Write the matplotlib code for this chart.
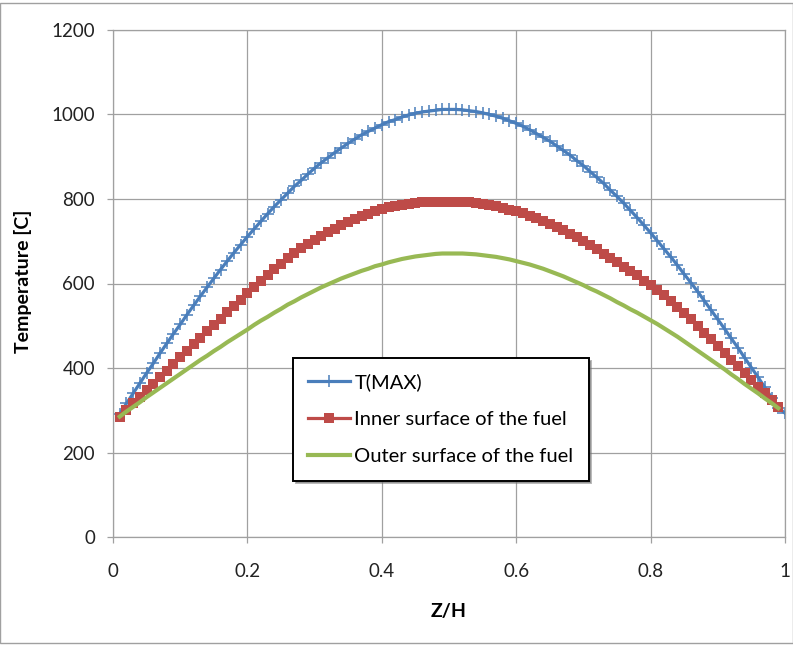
import numpy as np
import matplotlib; matplotlib.use("Agg")
import matplotlib.pyplot as plt
from matplotlib.patches import Rectangle

plt.rcParams["font.family"] = ["Lato", "DejaVu Sans"]

Z = np.round(np.arange(1, 101) * 0.01, 2)

T_MAX = [291, 316, 340, 364, 388, 411, 435, 458, 481, 503,
         526, 548, 570, 591, 612, 633, 653, 673, 692, 711,
         729, 747, 765, 782, 798, 814, 830, 844, 859, 873,
         886, 898, 910, 921, 932, 942, 952, 960, 968, 976,
         983, 988, 994, 999, 1003, 1006, 1008, 1010, 1012, 1012,
         1012, 1011, 1009, 1007, 1004, 1000, 996, 991, 985, 979,
         972, 964, 955, 946, 937, 926, 915, 904, 891, 879,
         865, 851, 837, 821, 806, 790, 773, 756, 738, 720,
         701, 682, 663, 643, 622, 602, 581, 559, 537, 515,
         493, 470, 448, 424, 401, 378, 354, 330, 306, 293]

INNER = [285, 301, 316, 332, 347, 363, 378, 394, 409, 425,
         440, 456, 471, 487, 502, 517, 532, 547, 562, 577,
         592, 607, 621, 634, 647, 660, 672, 683, 693, 703,
         713, 722, 730, 738, 746, 753, 759, 765, 771, 776,
         780, 783, 786, 789, 791, 792, 793, 794, 794, 793,
         793, 793, 792, 790, 788, 786, 783, 779, 775, 771,
         766, 760, 754, 748, 741, 733, 726, 718, 709, 700,
         691, 681, 671, 661, 651, 640, 629, 619, 607, 596,
         584, 572, 558, 545, 530, 515, 500, 484, 468, 452,
         436, 420, 404, 388, 372, 356, 340, 324, 308]

OUTER = [285, 297, 308, 319, 331, 342, 353, 364, 375, 386,
         397, 408, 419, 429, 440, 450, 461, 471, 481, 491,
         502, 512, 521, 531, 540, 550, 558, 567, 575, 583,
         591, 598, 605, 612, 618, 624, 630, 635, 641, 645,
         650, 654, 658, 661, 664, 666, 668, 670, 671, 671,
         671, 671, 670, 669, 667, 665, 663, 660, 657, 653,
         649, 645, 640, 635, 629, 623, 617, 610, 603, 596,
         588, 581, 573, 565, 556, 548, 539, 531, 522, 513,
         504, 494, 484, 474, 463, 452, 441, 430, 419, 408,
         397, 385, 374, 362, 351, 340, 328, 317, 305]

LABELS = ["T(MAX)", "Inner surface of the fuel", "Outer surface of the fuel"]
CORES = {"tmax": "#4A7EBB", "inner": "#BE4B48", "outer": "#98B954"}

W, H = 793, 650
fig = plt.figure(figsize=(W/100, H/100), dpi=100)
ax = fig.add_axes([113/W, 1-537/H, 672/W, 507/H])

ax.plot(Z[:len(T_MAX)], T_MAX, color=CORES["tmax"], lw=2.3, marker="+", ms=9, mew=1.1, label=LABELS[0])
ax.plot(Z[:len(INNER)], INNER, color=CORES["inner"], lw=2.3, marker="s", ms=6.8, mew=0, label=LABELS[1])
ax.plot(Z[:len(OUTER)], OUTER, color=CORES["outer"], lw=3, label=LABELS[2])

ax.set_xlim(0, 1); ax.set_ylim(0, 1200)
ax.set_xticks(np.arange(0, 1.01, 0.2)); ax.set_yticks(np.arange(0, 1201, 200))
ax.set_xticklabels(["0", "0.2", "0.4", "0.6", "0.8", "1"])
ax.grid(True, color="#A0A0A0", lw=0.9)
ax.set_axisbelow(True)
for s in ax.spines.values(): s.set_color("#A0A0A0"); s.set_linewidth(0.9)
ax.tick_params(axis="both", direction="out", length=4, width=0.9, color="#A0A0A0", labelsize=13.5, labelcolor="#222222")
ax.tick_params(axis="x", pad=15); ax.tick_params(axis="y", pad=9)

fig.text(449/W, 1-612/H, "Z/H", ha="center", va="center", fontsize=14, fontweight="bold")
fig.text(23/W, 1-281/H, "Temperature [C]", ha="center", va="center", rotation=90, fontsize=14, fontweight="bold")

leg = ax.legend(loc="upper left", bbox_to_anchor=(293/W, 1-358/H), bbox_transform=fig.transFigure,
                fancybox=False, shadow={"color": "0.45"}, edgecolor="black", framealpha=1,
                fontsize=14.5, numpoints=1, handlelength=2.1, handletextpad=0.2,
                labelspacing=1.0, borderpad=0.75, borderaxespad=0)
leg.get_frame().set_linewidth(1.4)

fig.patches.append(Rectangle((0, 7/H), 1, 640/H, transform=fig.transFigure, fill=False, edgecolor="#A0A0A0", lw=1))

fig.savefig("out.png", dpi=100)
